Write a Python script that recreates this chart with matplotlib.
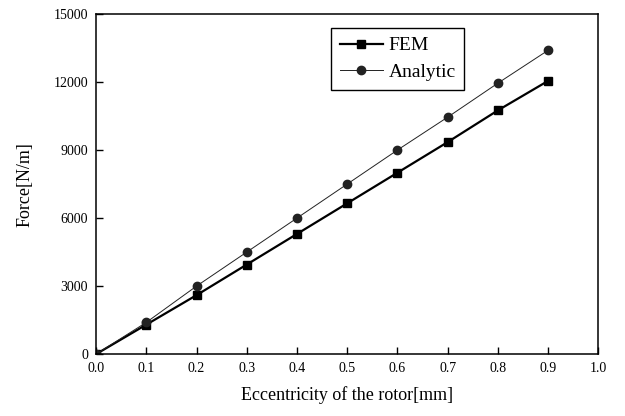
import numpy as np
import matplotlib.pyplot as plt
import matplotlib

matplotlib.rcParams['font.family'] = ['Liberation Serif', 'DejaVu Serif']

ecc = [0.0, 0.1, 0.2, 0.3, 0.4, 0.5, 0.6, 0.7, 0.8, 0.9]
fem = [0, 1300, 2600, 3950, 5300, 6650, 8000, 9350, 10750, 12050]
analytic = [0, 1400, 3000, 4500, 6000, 7500, 9000, 10450, 11950, 13400]

xticks = [0.0, 0.1, 0.2, 0.3, 0.4, 0.5, 0.6, 0.7, 0.8, 0.9, 1.0]
yticks = [0, 3000, 6000, 9000, 12000, 15000]

fig = plt.figure(figsize=(6.25, 4.16), dpi=100)
ax = fig.add_axes([0.154, 0.149, 0.803, 0.817])

ax.plot(ecc, fem, color='k', lw=1.6, marker='s', ms=6, label='FEM')
ax.plot(ecc, analytic, color='#222222', lw=0.7, marker='o', ms=6, label='Analytic')

ax.set_xlim(0, 1.0)
ax.set_ylim(0, 15000)
ax.set_xticks(xticks)
ax.set_xticklabels(['%.1f' % t for t in xticks])
ax.set_yticks(yticks)
ax.tick_params(direction='in', length=5, width=1, labelsize=10, pad=6)
for s in ax.spines.values():
    s.set_linewidth(1.1)

ax.set_xlabel('Eccentricity of the rotor[mm]', fontsize=13, labelpad=8)
ax.set_ylabel('Force[N/m]', fontsize=13, labelpad=14)

leg = ax.legend(loc='upper left', bbox_to_anchor=(0.468, 0.959), borderaxespad=0,
                fontsize=14, fancybox=False, edgecolor='k', framealpha=1,
                handlelength=2.2, borderpad=0.45, labelspacing=0.45, handletextpad=0.3)
leg.get_frame().set_linewidth(1.0)

fig.savefig('out.png', dpi=100)
